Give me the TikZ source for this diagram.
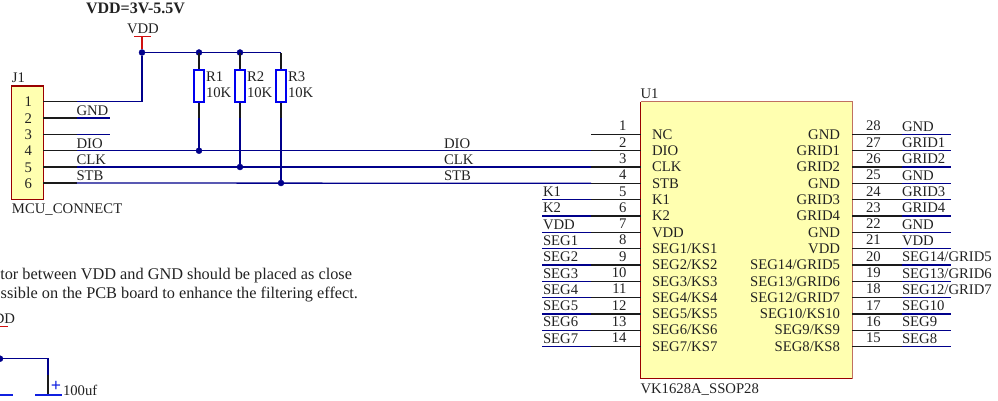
\documentclass[tikz,border=0pt]{standalone}
\usepackage{fontspec}
\setmainfont{Liberation Serif}
\tikzset{
  lbl/.style={inner sep=0pt,outer sep=0pt,text=txtc,font=\fontsize{14.7}{14.7}\selectfont},
  lw/.style={lbl,anchor=base west},
  le/.style={lbl,anchor=base east},
  notetxt/.style={lbl,anchor=base east,font=\fontsize{16.3}{16.3}\selectfont},
  pinw/.style={draw=pinc,line width=1.3pt},
  netw/.style={draw=netc,line width=1.3pt},
  res/.style={draw=resc,line width=1.7pt,fill=white,minimum width=9.5pt,minimum height=32pt,inner sep=0pt},
  jct/.style={circle,fill=netc,draw=netc,inner sep=0pt,minimum size=6pt},
  pwr/.style={draw=redc,line width=1.3pt},
  body/.style={fill=bodyc,draw=none,inner sep=0pt}
}
\definecolor{txtc}{HTML}{222222}
\definecolor{pinc}{HTML}{1A1A1A}
\definecolor{netc}{HTML}{00008B}
\definecolor{resc}{HTML}{0000F0}
\definecolor{redc}{HTML}{D01010}
\definecolor{bodyc}{HTML}{FFFFB0}
\definecolor{edgeL}{HTML}{990000}
\definecolor{edgeT}{HTML}{C07060}
\definecolor{capc}{HTML}{1020E0}
\begin{document}
\begin{tikzpicture}[x=1pt,y=-1pt]
\clip (0,0) rectangle (998,400);
\useasboundingbox (0,0) rectangle (998,400);
% J1 body
\node[body,minimum width=31.6pt,minimum height=113pt,anchor=north west] (J1) at (11.7,86) {};
\draw[draw=edgeL,line width=1.1pt] (J1.north west) rectangle (J1.south east);
% U1 body
\node[body,minimum width=211.3pt,minimum height=277pt,anchor=north west] (U1) at (640.7,101.5) {};
\draw[draw=edgeL,line width=1.1pt] (U1.north west) -- (U1.south west) -- (U1.south east);
\draw[draw=edgeT,line width=1.3pt] (U1.south east) -- (U1.north east) -- (U1.north west);
% texts
\node[lbl,anchor=base west,font=\fontsize{16}{16}\selectfont\bfseries] (title) at (86,13) {VDD=3V-5.5V};
\node[lw] (vddlab) at (127,33) {VDD};
\node[lw] (J1ref) at (12,82) {J1};
\node[lw] (J1val) at (12,213) {MCU\_CONNECT};
\node[lw] (U1ref) at (640.5,98) {U1};
\node[lw] (U1val) at (640.5,393) {VK1628A\_SSOP28};
\node[notetxt] (note1) at (352,279) {tor between VDD and GND should be placed as close};
\node[notetxt] (note2) at (358,298) {ssible on the PCB board to enhance the filtering effect.};
\node[le] (vdd2) at (15,323) {DD};
\node[lw] (capval) at (63,395) {100uf};
\node[lbl,text=capc,font=\fontsize{18}{18}\selectfont\bfseries] (capplus) at (56,386) {+};
% J1 pins
\foreach \n/\y in {1/101.7,2/118,3/134.3,4/150.7,5/167,6/183}{
  \coordinate (Ja\n) at (43.3,\y);
  \coordinate (Jb\n) at (76.5,\y);
  \draw[pinw] (Ja\n) -- (Jb\n);
  \node[le] (Jnum\n) at (32,\y+5) {\n};
}
\coordinate (Jc2) at (110,118);
\coordinate (Jc3) at (110,134.3);
\draw[netw] (Jb2) -- (Jc2);
\draw[netw] (Jb3) -- (Jc3);
\node[lw] (JnGND) at (76.5,115) {GND};
\node[lw] (JnDIO) at (76.5,148) {DIO};
\node[lw] (JnCLK) at (76.5,164) {CLK};
\node[lw] (JnSTB) at (76.5,180) {STB};
% U1 left pins
\foreach \n/\y/\inner/\outer in {1/134.3/NC/,2/150.7/DIO/,3/167/CLK/,4/183.3/STB/,5/199.7/K1/K1,6/216/K2/K2,7/232.3/VDD/VDD,8/248.6/SEG1\slash KS1/SEG1,9/265/SEG2\slash KS2/SEG2,10/281.3/SEG3\slash KS3/SEG3,11/297.6/SEG4\slash KS4/SEG4,12/314/SEG5\slash KS5/SEG5,13/330.2/SEG6\slash KS6/SEG6,14/346.5/SEG7\slash KS7/SEG7}{
  \coordinate (Ua\n) at (640.7,\y);
  \coordinate (Ub\n) at (591,\y);
  \coordinate (Uc\n) at (542,\y);
  \draw[pinw] (Ua\n) -- (Ub\n);
  \node[le] (Unum\n) at (626.5,\y-3.7) {\n};
  \node[lw] (Uin\n) at (652,\y+4.7) {\inner};
  \node[lw] (Uout\n) at (543,\y-3.3) {\outer};
}
\foreach \n in {5,...,14}{\draw[netw] (Ub\n) -- (Uc\n);}
% U1 right pins
\foreach \n/\y/\inner/\outer in {28/134.3/GND/GND,27/150.7/GRID1/GRID1,26/167/GRID2/GRID2,25/183.3/GND/GND,24/199.7/GRID3/GRID3,23/216/GRID4/GRID4,22/232.3/GND/GND,21/248.6/VDD/VDD,20/265/SEG14\slash GRID5/SEG14\slash GRID5,19/281.3/SEG13\slash GRID6/SEG13\slash GRID6,18/297.6/SEG12\slash GRID7/SEG12\slash GRID7,17/314/SEG10\slash KS10/SEG10,16/330.2/SEG9\slash KS9/SEG9,15/346.5/SEG8\slash KS8/SEG8}{
  \coordinate (Ra\n) at (852,\y);
  \coordinate (Rb\n) at (901.5,\y);
  \coordinate (Rc\n) at (951,\y);
  \draw[pinw] (Ra\n) -- (Rb\n);
  \draw[netw] (Rb\n) -- (Rc\n);
  \node[lw] (Rnum\n) at (866,\y-3.7) {\n};
  \node[le] (Rin\n) at (840,\y+4.7) {\inner};
  \node[lw] (Rout\n) at (902,\y-3.3) {\outer};
}
% net labels mid
\node[lw] (mDIO) at (444,148) {DIO};
\node[lw] (mCLK) at (444,164) {CLK};
\node[lw] (mSTB) at (444,180) {STB};
% VDD symbol and top rail
\coordinate (vddT) at (142,36.7);
\coordinate (vddL) at (134,36.7);
\coordinate (vddR) at (151,36.7);
\node[jct] (d0) at (142,52.5) {};
\node[jct] (d1) at (199,52.5) {};
\node[jct] (d2) at (240,52.5) {};
\coordinate (corner) at (281,52.5);
\draw[pwr] (vddL) -- (vddR);
\draw[pwr] (vddT) -- (d0);
\draw[netw] (d0) -- (d1) -- (d2) -- (corner);
\draw[netw] (Jb1 -| d0) -- (d0);
\draw[pinw] (Ja1) -- (Jb1);
\draw[netw] (Jb1) -- (Jb1 -| d0);
% resistors
\foreach \i/\x/\j in {1/199/4,2/240/5,3/281/6}{
  \node[res] (R\i) at (\x,85.7) {};
  \node[jct] (e\i) at (\x,\ifnum\j=4 150.7\else\ifnum\j=5 167\else 183\fi\fi) {};
  \coordinate (Rs\i) at (\x,118);
  \draw[pinw] (R\i.south) -- (Rs\i);
  \draw[netw] (Rs\i) -- (e\i);
  \draw[pinw] (R\i.north) -- (\x,52.5);
  \node[lw] (Rref\i) at (\x+7,81) {R\i};
  \node[lw] (Rval\i) at (\x+7,97) {10K};
}
% long nets
\draw[netw] (Jb4) -- (Ub2);
\draw[netw] (Jb5) -- (Ub3);
\draw[netw] (Jb6) -- (Ub4);
% capacitor fragment
\node[jct] (d3) at (0,358.7) {};
\coordinate (cT) at (48,358.7);
\coordinate (cM) at (48,375);
\coordinate (cB) at (48,395);
\coordinate (cL) at (35,395);
\coordinate (cR) at (62,395);
\coordinate (c2L) at (0,395);
\coordinate (c2R) at (13,395);
\coordinate (vdd2a) at (0,326.7);
\coordinate (vdd2b) at (8,326.7);
\draw[pwr] (vdd2a) -- (vdd2b);
\draw[netw] (d3) -- (cT) -- (cM);
\draw[pinw] (cM) -- (cB);
\draw[draw=capc,line width=1.3pt] (cL) -- (cR);
\draw[draw=capc,line width=1.3pt] (c2L) -- (c2R);
\end{tikzpicture}
\end{document}
